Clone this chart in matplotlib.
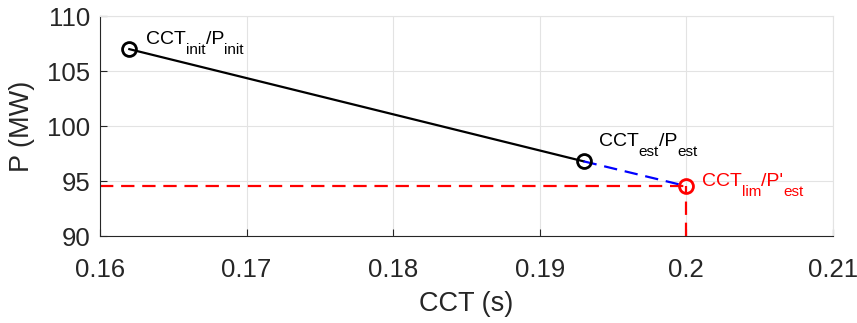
import matplotlib
matplotlib.use("Agg")
import matplotlib.pyplot as plt
from matplotlib.transforms import offset_copy

plt.rcParams["font.family"] = ["Liberation Sans", "DejaVu Sans"]

# values
cct = [0.162, 0.193, 0.2]
power = [107.0, 96.8, 94.55]
x_ticks = [0.16, 0.17, 0.18, 0.19, 0.2, 0.21]
x_tick_labels = ["0.16", "0.17", "0.18", "0.19", "0.2", "0.21"]
y_ticks = [90, 95, 100, 105, 110]
# (text, is_subscript) pieces of each point label
labels = [
    [("CCT", False), ("init", True), ("/P", False), ("init", True)],
    [("CCT", False), ("est", True), ("/P", False), ("est", True)],
    [("CCT", False), ("lim", True), ("/P'", False), ("est", True)],
]
label_colors = ["black", "black", "red"]
label_offsets = [(17, 5), (15, 15), (16, 0)]  # pixels from marker to baseline start

fig = plt.figure(figsize=(8.57, 3.23), dpi=100)
ax = fig.add_axes([0.1167, 0.269, 0.855, 0.681])

# limit lines
ax.plot([0.16, cct[2]], [power[2], power[2]], color="red", lw=1.6, dashes=(6, 3.5))
ax.plot([cct[2], cct[2]], [90, power[2]], color="red", lw=1.6, dashes=(6, 3.5))

# init -> est, est -> lim
ax.plot(cct[:2], power[:2], color="black", lw=1.6)
ax.plot(cct[1:], power[1:], color="blue", lw=1.6, dashes=(6, 3.5))

ax.plot(cct[:2], power[:2], "o", ms=10, mfc="none", mec="black", mew=2)
ax.plot(cct[2], power[2], "o", ms=10, mfc="none", mec="red", mew=2)

ax.set_xlim(0.16, 0.21)
ax.set_ylim(90, 110)
ax.set_xticks(x_ticks)
ax.set_xticklabels(x_tick_labels)
ax.set_yticks(y_ticks)
ax.grid(True, color="#e3e3e3", lw=0.8)
ax.set_axisbelow(True)
for s in ["top", "right"]:
    ax.spines[s].set_color("#e3e3e3")
for s in ["left", "bottom"]:
    ax.spines[s].set_color("#262626")
ax.tick_params(direction="in", length=5, labelsize=18.5, colors="#262626")
ax.tick_params(axis="x", pad=16)
ax.tick_params(axis="y", pad=7)
ax.set_xlabel("CCT (s)", fontsize=19.5, color="#262626", labelpad=6)
ax.set_ylabel("P (MW)", fontsize=19.5, color="#262626", labelpad=9)

# point labels, MATLAB-style subscripts built piece by piece
renderer = fig.canvas.get_renderer()
for i, parts in enumerate(labels):
    dx, dy = label_offsets[i]
    for txt, sub in parts:
        tr = offset_copy(ax.transData, fig=fig, x=dx, y=dy - (9.5 if sub else 0), units="dots")
        t = ax.text(cct[i], power[i], txt, transform=tr, fontsize=11 if sub else 14,
                    color=label_colors[i], va="baseline", ha="left")
        dx += t.get_window_extent(renderer).width

fig.savefig("out.png", dpi=100)
